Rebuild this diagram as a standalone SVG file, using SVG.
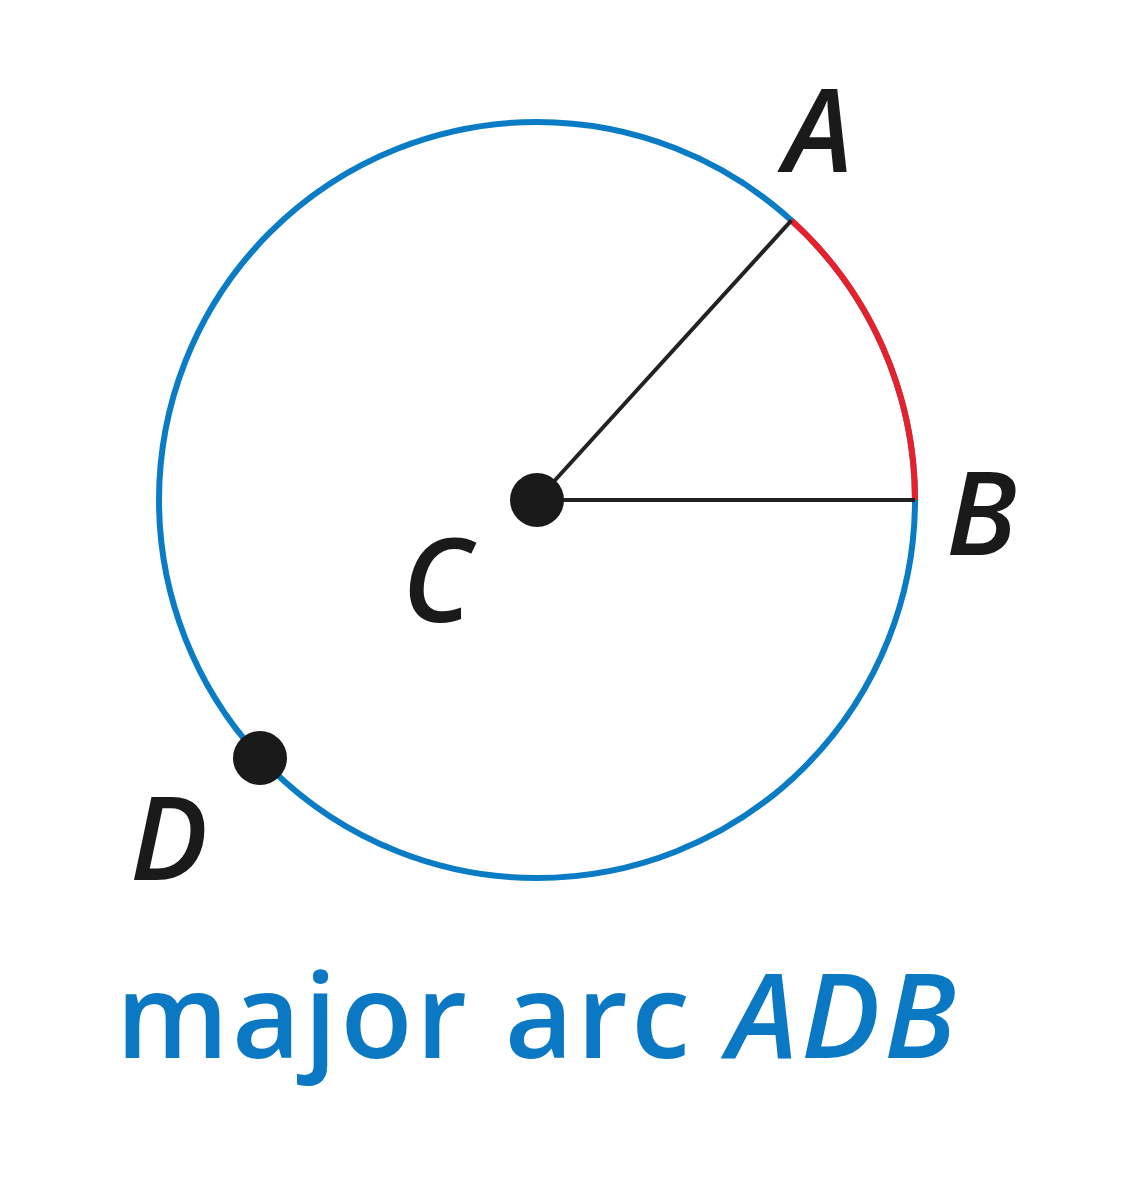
<svg xmlns="http://www.w3.org/2000/svg" width="1122" height="1200" viewBox="0 0 1122 1200">
<style>
.lbl{font-family:"Open Sans","Noto Sans",sans-serif;font-style:italic;font-weight:600;font-size:116px;fill:#1a1a1a}
.cap{font-family:"Open Sans","Noto Sans",sans-serif;font-weight:600;font-size:118px;fill:#0a78c2}
</style>
<rect width="1122" height="1200" fill="#ffffff"/>
<g id="circle">
<circle cx="537" cy="500" r="378" fill="none" stroke="#0a7cc6" stroke-width="6"/>
</g>
<g id="connectors">
<path d="M 791.4 220.4 A 378 378 0 0 1 915 500" fill="none" stroke="#e8202a" stroke-width="6"/>
<line x1="537" y1="500" x2="791.4" y2="220.4" stroke="#222" stroke-width="4"/>
<line x1="537" y1="500" x2="915" y2="500" stroke="#222" stroke-width="4"/>
</g>
<g id="node-C"><circle cx="537" cy="500" r="27" fill="#1a1a1a"/><text class="lbl" x="402" y="622">C</text></g>
<g id="node-D"><circle cx="260" cy="758" r="27" fill="#1a1a1a"/><text class="lbl" x="130" y="880">D</text></g>
<g id="node-A"><text class="lbl" x="784" y="172">A</text></g>
<g id="node-B"><text class="lbl" x="946" y="555">B</text></g>
<g id="caption"><text class="cap" x="116" y="1058" textLength="840" lengthAdjust="spacing">major arc <tspan font-style="italic">ADB</tspan></text></g>
</svg>
